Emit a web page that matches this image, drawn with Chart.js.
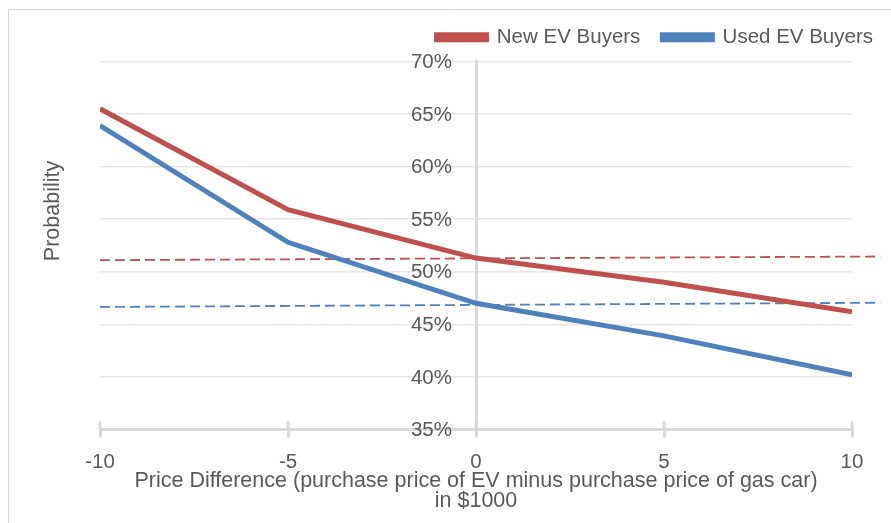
<!DOCTYPE html>
<html>
<head>
<meta charset="utf-8">
<script src="https://cdn.jsdelivr.net/npm/chart.js@4.4.1/dist/chart.umd.min.js"></script>
<style>
  html, body { margin: 0; padding: 0; background: #fff; }
  #wrap { position: relative; width: 891px; height: 523px; }
</style>
</head>
<body>
<div id="wrap"><canvas id="chart" width="891" height="523"></canvas></div>
<script>
// Price difference (EV minus gas car), in $1000
const priceDiff = [-10, -5, 0, 5, 10];
// Probability (%) of choosing EV
const newBuyers = [65.5, 55.9, 51.3, 49.0, 46.2];
const usedBuyers = [63.9, 52.8, 47.0, 43.9, 40.2];
// Dashed reference lines: [x, y] end points
const newRefX = [-10, 10.75];
const newRefY = [51.1, 51.45];
const usedRefX = [-10, 10.75];
const usedRefY = [46.65, 47.05];

const yTicks = [35, 40, 45, 50, 55, 60, 65, 70];
const xTicks = [-10, -5, 0, 5, 10];

const RED = '#c0504d';
const BLUE = '#4f81bd';
const AXIS = '#d9d9d9';
const TEXT = '#595959';
const FONT = "'Liberation Sans', Arial, sans-serif";

function toPoints(xs, ys) {
    return xs.map((x, i) => ({ x: x, y: ys[i] }));
}

// Frame, y tick labels next to the centred axis, y-axis title, upper half of x tick marks
const extras = {
    id: 'extras',
    beforeDraw(chart) {
        const ctx = chart.ctx;
        ctx.save();
        ctx.strokeStyle = AXIS;
        ctx.lineWidth = 1;
        ctx.beginPath();
        ctx.moveTo(8.5, 523);
        ctx.lineTo(8.5, 9.5);
        ctx.lineTo(891, 9.5);
        ctx.stroke();
        ctx.restore();
    },
    beforeDatasetsDraw(chart) {
        const ctx = chart.ctx;
        const y = chart.scales.y;
        const axisX = chart.scales.x.getPixelForValue(0);
        ctx.save();
        ctx.fillStyle = TEXT;
        ctx.font = "20.5px " + FONT;
        ctx.textAlign = 'right';
        ctx.textBaseline = 'middle';
        yTicks.forEach(v => {
            ctx.fillText(v + '%', axisX - 24, y.getPixelForValue(v) + 1);
        });
        ctx.restore();
    },
    afterDraw(chart) {
        const ctx = chart.ctx;
        const area = chart.chartArea;
        const x = chart.scales.x;
        ctx.save();
        ctx.strokeStyle = AXIS;
        ctx.lineWidth = 3;
        xTicks.forEach(v => {
            const px = x.getPixelForValue(v);
            ctx.beginPath();
            ctx.moveTo(px, area.bottom - 8);
            ctx.lineTo(px, area.bottom);
            ctx.stroke();
        });
        ctx.translate(53, 211);
        ctx.rotate(-Math.PI / 2);
        ctx.fillStyle = TEXT;
        ctx.font = "21.5px " + FONT;
        ctx.textAlign = 'center';
        ctx.textBaseline = 'middle';
        ctx.fillText('Probability', 0, 0);
        ctx.restore();
    }
};

new Chart(document.getElementById('chart'), {
    type: 'line',
    data: {
        datasets: [
            {
                label: 'New EV Buyers',
                data: toPoints(priceDiff, newBuyers),
                borderColor: RED,
                backgroundColor: RED,
                borderWidth: 5,
                pointRadius: 0,
                tension: 0
            },
            {
                label: 'Used EV Buyers',
                data: toPoints(priceDiff, usedBuyers),
                borderColor: BLUE,
                backgroundColor: BLUE,
                borderWidth: 5,
                pointRadius: 0,
                tension: 0
            },
            {
                label: 'new-ref',
                data: toPoints(newRefX, newRefY),
                borderColor: RED,
                borderWidth: 1.8,
                borderDash: [10, 5],
                pointRadius: 0,
                clip: false
            },
            {
                label: 'used-ref',
                data: toPoints(usedRefX, usedRefY),
                borderColor: BLUE,
                borderWidth: 1.8,
                borderDash: [10, 5],
                pointRadius: 0,
                clip: false
            }
        ]
    },
    options: {
        responsive: false,
        animation: false,
        layout: {
            padding: { left: 100, right: -4, top: 5, bottom: 12 }
        },
        plugins: {
            tooltip: { enabled: false },
            legend: {
                position: 'top',
                align: 'end',
                labels: {
                    font: { family: FONT, size: 20.5 },
                    color: TEXT,
                    boxWidth: 50,
                    boxHeight: 5,
                    padding: 22,
                    filter: item => item.datasetIndex < 2
                }
            }
        },
        scales: {
            x: {
                type: 'linear',
                min: -10,
                max: 10,
                position: 'bottom',
                afterBuildTicks: scale => {
                    scale.ticks = xTicks.map(v => ({ value: v }));
                },
                border: { color: AXIS, width: 3 },
                grid: {
                    drawOnChartArea: false,
                    drawTicks: true,
                    tickLength: 8,
                    color: AXIS,
                    lineWidth: 3
                },
                ticks: {
                    font: { family: FONT, size: 20.5 },
                    color: TEXT,
                    padding: 13,
                    maxRotation: 0
                },
                title: {
                    display: true,
                    text: ['Price Difference (purchase price of EV minus purchase price of gas car)', 'in $1000'],
                    font: { family: FONT, size: 21.5, lineHeight: 0.93 },
                    color: TEXT,
                    padding: { top: -17, bottom: 0 }
                }
            },
            // spacer keeping the plot clear of the legend
            xTop: {
                type: 'linear',
                position: 'top',
                display: true,
                grid: { display: false },
                border: { display: false },
                ticks: { display: false },
                afterFit: scale => { scale.height = 4; }
            },
            y: {
                type: 'linear',
                min: 35,
                max: 70,
                position: { x: 0 },
                afterBuildTicks: scale => {
                    scale.ticks = yTicks.map(v => ({ value: v }));
                },
                border: { color: AXIS, width: 3 },
                grid: {
                    color: '#e6e6e6',
                    lineWidth: 1.5,
                    drawTicks: false
                },
                ticks: { display: false }
            },
            // spacer so the plot stops short of the legend's right edge
            yRight: {
                type: 'linear',
                position: 'right',
                display: true,
                grid: { display: false },
                border: { display: false },
                ticks: { display: false },
                afterFit: scale => { scale.width = 43; }
            }
        }
    },
    plugins: [extras]
});
</script>
</body>
</html>
